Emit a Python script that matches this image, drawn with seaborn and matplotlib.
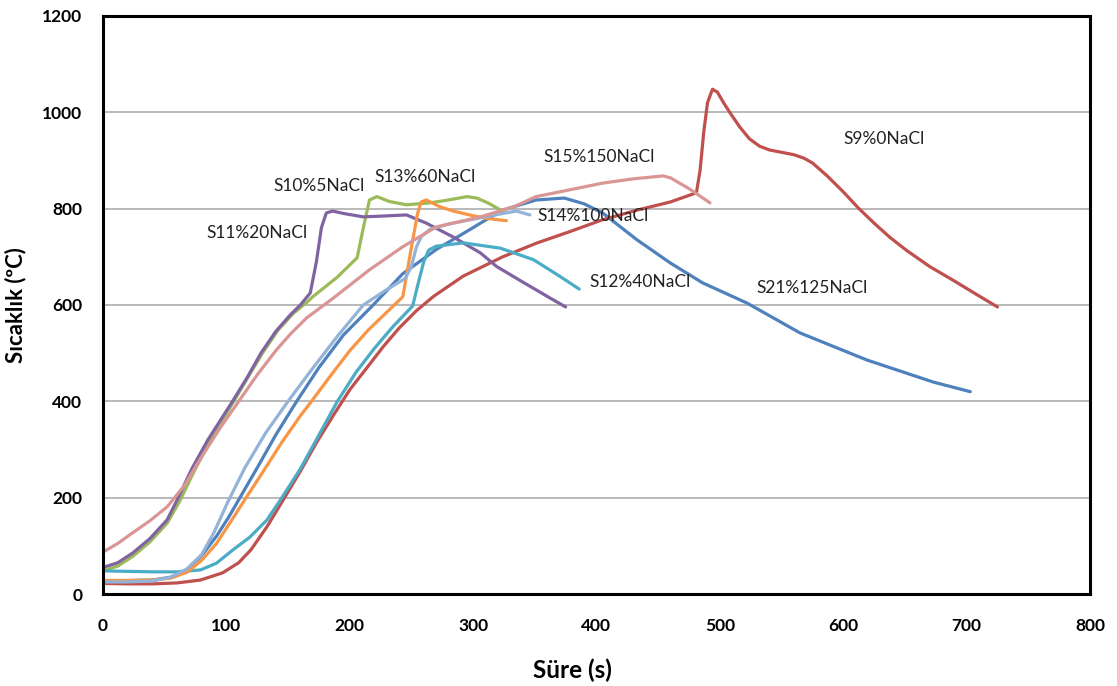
import matplotlib
matplotlib.use("Agg")
import matplotlib.pyplot as plt
import seaborn as sns
import pandas as pd

# Time (s) / temperature (°C) readings for each sample
s9_t = [0, 20, 40, 60, 79, 97, 110, 120, 133, 146, 160, 173, 187, 200, 214, 227, 240, 254, 268, 292, 324, 352,
        378, 405, 433, 460, 481, 484, 487, 490, 494, 498, 503, 508, 516, 524, 532, 540, 550, 560, 568, 575, 587,
        600, 612, 625, 638, 651, 670, 690, 708, 725]
s9_T = [22, 21, 21, 23, 29, 44, 65, 92, 140, 195, 255, 314, 372, 424, 470, 513, 552, 588, 618, 660, 700, 729,
        752, 777, 797, 814, 833, 880, 960, 1020, 1048, 1042, 1020, 1000, 970, 945, 930, 922, 917, 912, 905,
        895, 868, 835, 802, 770, 740, 714, 680, 650, 622, 596]

s10_t = [0, 12, 24, 38, 52, 62, 73, 86, 96, 106, 118, 130, 142, 154, 165, 170, 190, 206, 211, 216, 222, 232,
         246, 265, 280, 295, 303, 312, 319, 325]
s10_T = [48, 58, 78, 108, 147, 192, 250, 315, 358, 400, 452, 503, 548, 582, 605, 617, 658, 698, 760, 818, 825,
         815, 808, 812, 818, 825, 822, 812, 802, 793]

s11_t = [0, 12, 24, 38, 52, 61, 72, 85, 95, 105, 117, 128, 140, 152, 160, 168, 173, 177, 181, 186, 195, 211,
         230, 246, 262, 284, 306, 319, 340, 362, 375]
s11_T = [55, 65, 85, 115, 154, 200, 260, 320, 360, 400, 450, 500, 545, 580, 600, 625, 690, 760, 791, 795, 790,
         783, 785, 787, 770, 741, 708, 680, 648, 615, 596]

s12_t = [0, 20, 40, 60, 79, 92, 105, 119, 133, 145, 160, 175, 190, 205, 220, 235, 251, 255, 260, 264, 270, 292,
         322, 349, 370, 386]
s12_T = [48, 47, 46, 46, 50, 64, 91, 118, 154, 200, 260, 330, 400, 460, 510, 555, 598, 640, 690, 714, 722, 729,
         718, 694, 660, 633]

s13_t = [0, 20, 40, 55, 68, 80, 92, 104, 116, 130, 145, 160, 169, 185, 200, 215, 230, 243, 250, 255, 258, 262,
         273, 284, 297, 310, 327]
s13_T = [28, 28, 29, 33, 45, 70, 105, 152, 200, 255, 315, 370, 400, 455, 505, 548, 585, 617, 720, 790, 814, 818,
         804, 795, 787, 780, 775]

s14_t = [0, 20, 40, 55, 68, 80, 90, 101, 115, 132, 150, 168, 190, 211, 230, 245, 250, 254, 258, 265, 280, 300,
         320, 335, 346]
s14_T = [25, 25, 27, 35, 52, 82, 128, 190, 262, 335, 400, 462, 535, 600, 632, 655, 680, 720, 742, 757, 768, 778,
         788, 795, 787]

s15_t = [0, 12, 24, 38, 52, 66, 80, 95, 110, 125, 140, 152, 165, 187, 216, 243, 270, 306, 333, 351, 380, 405,
         430, 454, 460, 476, 492]
s15_T = [87, 105, 127, 152, 181, 225, 285, 345, 400, 455, 505, 540, 573, 615, 673, 721, 762, 783, 804, 825, 840,
         853, 862, 868, 864, 840, 812]

s21_t = [0, 20, 40, 55, 68, 80, 92, 102, 111, 125, 140, 157, 175, 195, 219, 243, 270, 297, 306, 324, 351, 374,
         390, 405, 433, 460, 486, 522, 565, 619, 673, 703]
s21_T = [28, 28, 29, 35, 50, 80, 120, 160, 200, 262, 330, 400, 470, 538, 600, 665, 715, 756, 770, 797, 818, 822,
         810, 791, 735, 687, 646, 604, 542, 486, 440, 420]

names = ["S21%125NaCl", "S9%0NaCl", "S10%5NaCl", "S11%20NaCl",
         "S12%40NaCl", "S13%60NaCl", "S14%100NaCl", "S15%150NaCl"]
times = [s21_t, s9_t, s10_t, s11_t, s12_t, s13_t, s14_t, s15_t]
temps = [s21_T, s9_T, s10_T, s11_T, s12_T, s13_T, s14_T, s15_T]
colors = ["#4F81BD", "#C0504D", "#9BBB59", "#8064A2",
          "#4BACC6", "#F79646", "#93B3D8", "#D99694"]

# Where each series name is written (data coordinates, left edge of text)
label_t = [530, 600, 138, 84, 394, 220, 352, 357]
label_T = [636, 945, 847, 750, 648, 866, 785, 908]

df = pd.concat(
    [pd.DataFrame({"Süre": t, "Sıcaklık": T, "Numune": n})
     for n, t, T in zip(names, times, temps)],
    ignore_index=True,
)

sns.set_theme(style="white")
plt.rcParams["font.family"] = ["Lato", "DejaVu Sans"]

fig = plt.figure(figsize=(11.17, 6.86), dpi=100)
ax = fig.add_axes([0.0922, 0.1341, 0.8836, 0.8426])

sns.lineplot(data=df, x="Süre", y="Sıcaklık", hue="Numune",
             palette=dict(zip(names, colors)), sort=False, estimator=None,
             linewidth=2.3, legend=False, ax=ax)
for line in ax.get_lines():
    line.set_solid_joinstyle("round")
    line.set_solid_capstyle("round")

for n, lt, lT in zip(names, label_t, label_T):
    ax.text(lt, lT, n, ha="left", va="center", fontsize=12.5, color="#222222")

ax.set_xlim(0, 800)
ax.set_ylim(0, 1200)
ax.set_xticks(range(0, 801, 100))
ax.set_yticks(range(0, 1201, 200))
ax.yaxis.grid(True, color="#A6A6A6", linewidth=1.1)
ax.xaxis.grid(False)
ax.set_axisbelow(True)

for side in ["left", "right", "top", "bottom"]:
    ax.spines[side].set_visible(True)
    ax.spines[side].set_color("black")
    ax.spines[side].set_linewidth(2.2)

ax.tick_params(axis="both", which="major", direction="out", length=5,
               width=1, color="#A6A6A6", labelsize=12.5, pad=10,
               labelcolor="black")
ax.tick_params(axis="x", pad=12)
for lab in ax.get_xticklabels() + ax.get_yticklabels():
    lab.set_fontweight("bold")

ax.set_xlabel("Süre (s)", fontsize=17.5, fontweight="bold", color="black")
ax.set_ylabel("Sıcaklık (ºC)", fontsize=16, fontweight="bold", color="black")
ax.xaxis.set_label_coords(0.476, -0.112)
ax.yaxis.set_label_coords(-0.078, 0.5)

fig.savefig("out.png", dpi=100, facecolor="white")
